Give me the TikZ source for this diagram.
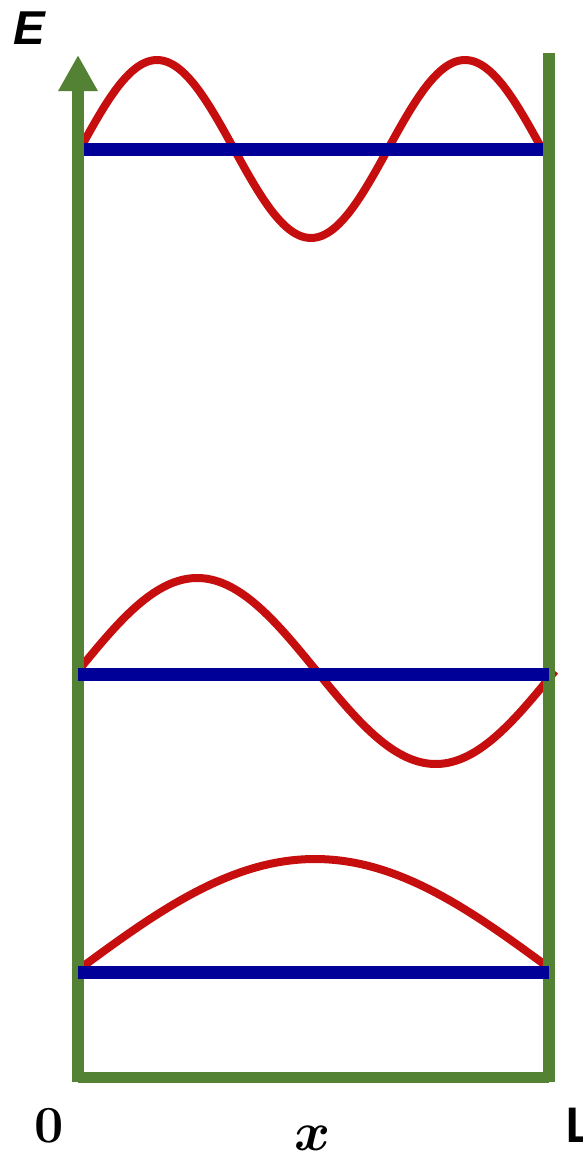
\documentclass[tikz,border=0pt]{standalone}
\usepackage{fontspec}
\usepackage{amsmath}
\usetikzlibrary{arrows.meta}
\newfontfamily\efont{Liberation Sans}
\newfontfamily\lfont{Carlito}
\definecolor{wallgreen}{RGB}{84,130,53}
\definecolor{wavered}{RGB}{198,14,14}
\definecolor{levelblue}{RGB}{0,0,153}
\tikzset{
  wall/.style={draw=wallgreen, line width=12pt, line cap=butt},
  level/.style={draw=levelblue, line width=12.5pt, line cap=butt},
  wave/.style={draw=wavered, line width=8pt, line cap=butt, line join=round},
  lab/.style={inner sep=0pt, outer sep=0pt, text=black}
}
\begin{document}
\begin{tikzpicture}[x=1pt, y=-1pt]
\useasboundingbox (0,0) rectangle (582,1154);
% coordinates
\coordinate (wlb) at (78,1082);
\coordinate (wlt) at (78,55);
\coordinate (wrt) at (549,53);
\coordinate (wrb) at (549,1082);
\coordinate (bl) at (78,1077.5);
\coordinate (br) at (549,1077.5);
\coordinate (l3a) at (84,149.5);
\coordinate (l3b) at (543,149.5);
\coordinate (l2a) at (78,674.5);
\coordinate (l2b) at (549,674.5);
\coordinate (l1a) at (78,972.5);
\coordinate (l1b) at (549,972.5);
% waves
\draw[wave] plot[domain=80:542, samples=160] (\x, {149 - 89*sin(1.168831*(\x-80))});
\draw[wave] plot[domain=78:555, samples=160] (\x, {671 - 93*sin(0.754717*(\x-78))});
\draw[wave] plot[domain=78:552, samples=120] (\x, {970 - 111*sin(0.379747*(\x-78))});
% walls
\draw[wall, -{Triangle[width=37pt,length=36pt]}] (wlb) -- (wlt);
\draw[wall] (wrt) -- (wrb);
\draw[wall, line width=11pt] (bl) -- (br);
% levels
\draw[level] (l3a) -- (l3b);
\draw[level] (l2a) -- (l2b);
\draw[level] (l1a) -- (l1b);
% labels
\node[lab, anchor=base west] (E) at (13,44) {\fontsize{47.5}{55}\selectfont\efont\bfseries\itshape E};
\node[lab, anchor=base] (zero) at (49.5,1142.5) {\fontsize{52}{60}\selectfont\bfseries 0};
\node[lab, anchor=base, scale=2.2] (xl) at (312.5,1150) {\Huge$\boldsymbol{x}$};
\node[lab, anchor=base west] (Ll) at (566,1142) {\fontsize{53}{60}\selectfont\lfont\bfseries L};
\end{tikzpicture}
\end{document}
